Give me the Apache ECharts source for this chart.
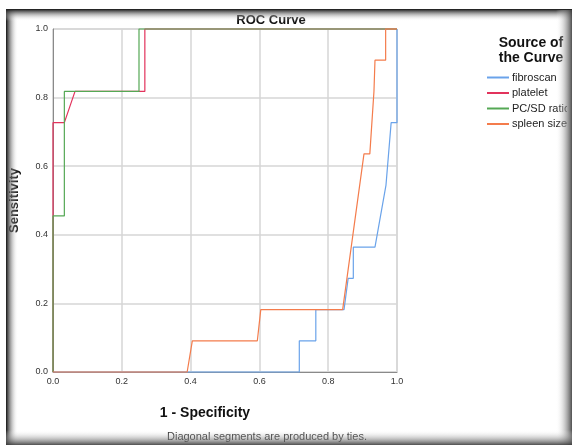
<!DOCTYPE html>
<html><head><meta charset="utf-8">
<script src="https://cdn.jsdelivr.net/npm/echarts@6/dist/echarts.min.js"></script>
<style>html,body{margin:0;padding:0;background:#fff}#c{width:572px;height:445px}</style>
</head><body><div id="c"></div>
<script>
var seriesNames = ['fibroscan', 'platelet', 'PC/SD ratio', 'spleen size'];
var seriesColors = ['#6aa3ea', '#e2335c', '#55a855', '#f47c4c'];
var xTicks = [0, 0.2, 0.4, 0.6, 0.8, 1.0];
var yTicks = [0, 0.2, 0.4, 0.6, 0.8, 1.0];
var fibroscan = [[0,0],[0.716,0],[0.716,0.091],[0.764,0.091],[0.764,0.182],[0.846,0.182],[0.858,0.273],[0.873,0.273],[0.873,0.364],[0.936,0.364],[0.968,0.545],[0.983,0.727],[1,0.727],[1,1]];
var platelet = [[0,0],[0,0.727],[0.033,0.727],[0.064,0.818],[0.267,0.818],[0.267,1],[1,1]];
var pcsd = [[0,0],[0,0.455],[0.033,0.455],[0.033,0.818],[0.25,0.818],[0.25,1],[1,1]];
var spleen = [[0,0],[0.39,0],[0.405,0.091],[0.594,0.091],[0.604,0.182],[0.842,0.182],[0.904,0.636],[0.921,0.636],[0.933,0.818],[0.936,0.909],[0.967,0.909],[0.967,1],[1,1]];
var dataSets = [fibroscan, platelet, pcsd, spleen];

var FONT = 'Liberation Sans, Arial, sans-serif';
var chart = echarts.init(document.getElementById('c'));
function edgeGrad(x, y, w, h, x2, y2, from, to, z) {
  return {type:'rect', shape:{x:x,y:y,width:w,height:h}, z:z, silent:true,
    style:{fill:new echarts.graphic.LinearGradient(0,0,x2,y2,[{offset:0,color:from},{offset:1,color:to}])}};
}
chart.setOption({
  animation:false,
  backgroundColor:'#fff',
  textStyle:{fontFamily:FONT},
  title:{text:'ROC Curve', left:266, top:9, textAlign:'center',
    textStyle:{fontSize:13, fontWeight:'bold', color:'#111', fontFamily:FONT}},
  grid:{left:53, top:29, width:344, height:343, show:true, borderColor:'#c8c8c8', borderWidth:1},
  xAxis:{type:'value', min:0, max:1, interval:0.2,
    axisLine:{show:true, lineStyle:{color:'#8a8a8a'}}, axisTick:{show:false},
    splitLine:{show:true, lineStyle:{color:'#d6d6d6', width:1.5}},
    axisLabel:{fontSize:9, color:'#333', margin:5, fontFamily:FONT, formatter:function(v){return v.toFixed(1);}},
    name:'1 - Specificity', nameLocation:'middle', nameGap:34,
    nameTextStyle:{fontSize:14, fontWeight:'bold', color:'#111', fontFamily:FONT, padding:[0,40,0,0]}},
  yAxis:{type:'value', min:0, max:1, interval:0.2,
    axisLine:{show:true, lineStyle:{color:'#8a8a8a'}}, axisTick:{show:false},
    splitLine:{show:true, lineStyle:{color:'#d6d6d6', width:1.5}},
    axisLabel:{fontSize:9, color:'#333', margin:5, fontFamily:FONT, formatter:function(v){return v.toFixed(1);}},
    name:'Sensitivity', nameLocation:'middle', nameGap:32, nameRotate:90,
    nameTextStyle:{fontSize:13, fontWeight:'bold', color:'#111', fontFamily:FONT, padding:[0,0,0,0]}},
  legend:{orient:'vertical', left:487, top:72, padding:0, itemWidth:22, itemHeight:2, itemGap:4.5, icon:'rect',
    data:seriesNames,
    textStyle:{fontSize:11, color:'#222', fontFamily:FONT, padding:[0,0,0,-2]}},
  series:dataSets.map(function(d,i){
    return {name:seriesNames[i], type:'line', data:d, showSymbol:false, symbol:'none',
      color:seriesColors[i], lineStyle:{width:1.2, color:seriesColors[i]}, clip:false, z:2+i};
  }),
  graphic:[
    {type:'text', x:531, y:36, z:10, style:{text:'Source of\nthe Curve', fontSize:14, fontWeight:'bold',
      fill:'#111', align:'center', textAlign:'center', lineHeight:15, fontFamily:FONT}},
    {type:'text', left:167, top:431, z:10, style:{text:'Diagonal segments are produced by ties.', fontSize:11,
      fill:'#222', fontFamily:FONT}},
    {type:'rect', shape:{x:567, y:0, width:5, height:445}, z:20, silent:true, style:{fill:'#fff'}},
    edgeGrad(6, 10, 12, 435, 1, 0, '#111', 'rgba(255,255,255,0)', 21),
    edgeGrad(6, 9, 566, 12, 0, 1, '#111', 'rgba(255,255,255,0)', 21),
    edgeGrad(556, 10, 16, 435, 1, 0, 'rgba(255,255,255,0)', 'rgba(60,60,60,0.9)', 21),
    edgeGrad(6, 430, 566, 15, 0, 1, 'rgba(255,255,255,0)', 'rgba(60,60,60,0.9)', 21)
  ]
});
</script></body></html>
